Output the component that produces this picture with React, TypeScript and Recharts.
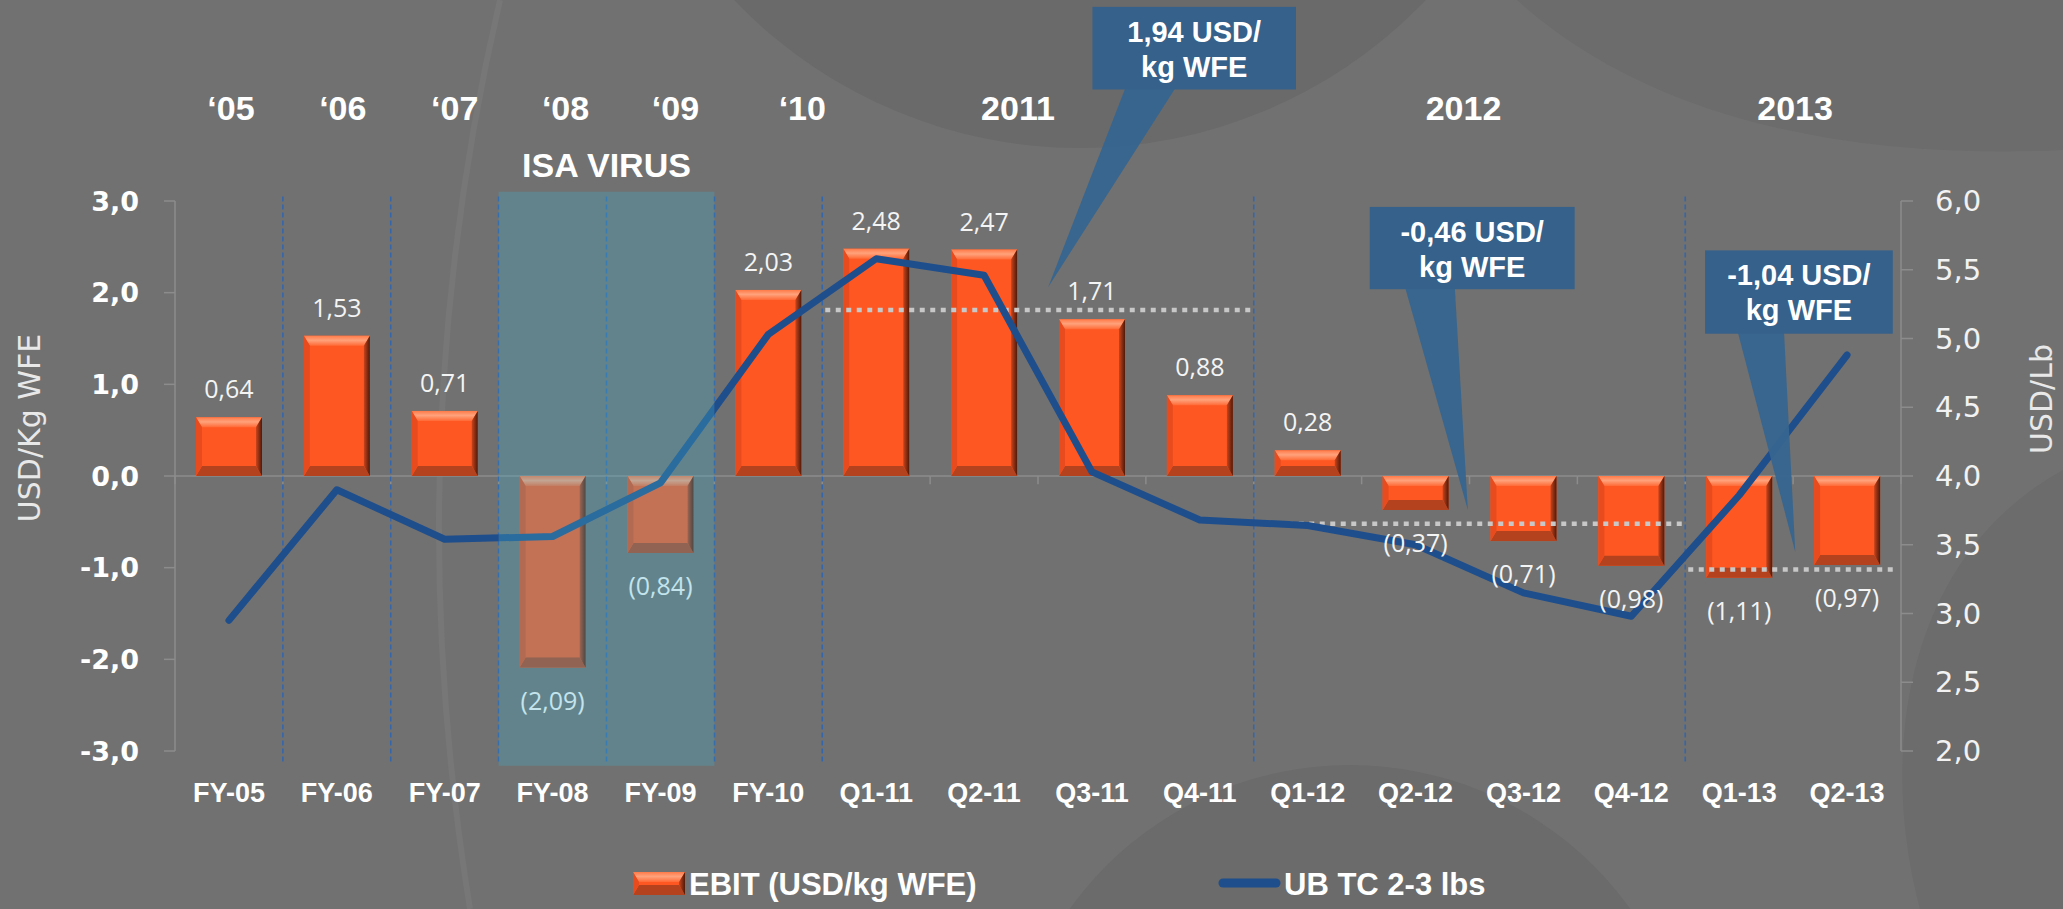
import React from 'react';
import {
  ComposedChart,
  Bar,
  Line,
  XAxis,
  YAxis,
  ReferenceArea,
  ReferenceDot,
  LabelList,
} from 'recharts';

// ---- data ----
const categories = ['FY-05', 'FY-06', 'FY-07', 'FY-08', 'FY-09', 'FY-10', 'Q1-11', 'Q2-11', 'Q3-11', 'Q4-11', 'Q1-12', 'Q2-12', 'Q3-12', 'Q4-12', 'Q1-13', 'Q2-13'];
const ebitValues = [0.64, 1.53, 0.71, -2.09, -0.84, 2.03, 2.48, 2.47, 1.71, 0.88, 0.28, -0.37, -0.71, -0.98, -1.11, -0.97];
const ubTcValues = [2.95, 3.9, 3.54, 3.56, 3.95, 5.03, 5.58, 5.46, 4.03, 3.68, 3.64, 3.5, 3.15, 2.98, 3.86, 4.88];

const yearLabels = ['‘05', '‘06', '‘07', '‘08', '‘09', '‘10', '2011', '2012', '2013'];
const yearStart = ['FY-05', 'FY-06', 'FY-07', 'FY-08', 'FY-09', 'FY-10', 'Q1-11', 'Q1-12', 'Q1-13'];
const yearEnd = ['FY-05', 'FY-06', 'FY-07', 'FY-08', 'FY-09', 'FY-10', 'Q4-11', 'Q4-12', 'Q2-13'];

const dividerAt = ['FY-06', 'FY-07', 'FY-08', 'FY-09', 'FY-10', 'Q1-11', 'Q1-12', 'Q1-13'];

const avgStart = ['Q1-11', 'Q1-12', 'Q1-13'];
const avgEnd = ['Q4-11', 'Q4-12', 'Q2-13'];
const avgValues = [1.81, -0.52, -1.02];

const calloutText = [['1,94 USD/', 'kg WFE'], ['-0,46 USD/', 'kg WFE'], ['-1,04 USD/', 'kg WFE']];
const calloutCat = ['Q3-11', 'Q3-12', 'Q2-13'];
const calloutValue = [2.06, -0.37, -0.83];

const leftTicks = [-3, -2, -1, 0, 1, 2, 3];
const rightTicks = [2, 2.5, 3, 3.5, 4, 4.5, 5, 5.5, 6];

const data = categories.map((cat, i) => ({ cat, ebit: ebitValues[i], ubtc: ubTcValues[i] }));

// ---- layout / style ----
const W = 2063;
const H = 909;
const BG = '#717171';
const LINE_BLUE = '#1f4e8c';
const ARIAL = '"Liberation Sans", Arial, sans-serif';
const DEJAVU = '"DejaVu Sans", Verdana, sans-serif';
const OPEN = '"Open Sans", "Liberation Sans", sans-serif';
const ISA_TINT = ['FY-08', 'FY-09'];

// pixel nudges of the year row text (Excel text boxes are not exactly centred)
const yearNudge = [2, 6, 10, 13, 15, 34, -20, -6, 2];

// callout geometry relative to the pointer tip
const calloutGeo = [
  { dx: -43.8, bx: 44.3, by: -280.3, bw: 203.5, bh: 82.6, p1: 77, p2: 127 },
  { dx: -55.6, bx: -98.1, by: -303, bw: 204.9, bh: 82.3, p1: -62.5, p2: -13 },
  { dx: -51.8, bx: -90.2, by: -301.7, bw: 187.7, bh: 83.3, p1: -57.3, p2: -11.2 },
];

const fmt1 = (v: number) => v.toFixed(1).replace('.', ',');
const fmtLabel = (v: number) =>
  v < 0 ? `(${Math.abs(v).toFixed(2).replace('.', ',')})` : v.toFixed(2).replace('.', ',');

function BevelRect({ x, y, w, h }: { x: number; y: number; w: number; h: number }) {
  const b = Math.min(10, h / 2);
  const s = Math.min(6, w / 2);
  return (
    <g>
      <rect x={x} y={y} width={w} height={h} fill="#ff5722" />
      <polygon points={`${x},${y} ${x + w},${y} ${x + w - s},${y + b} ${x + s},${y + b}`} fill="url(#bevelTop)" />
      <polygon points={`${x},${y + h} ${x + s},${y + h - b} ${x + w - s},${y + h - b} ${x + w},${y + h}`} fill="#b4421e" />
      <polygon points={`${x},${y} ${x + s},${y + b} ${x + s},${y + h - b} ${x},${y + h}`} fill="#e84c1e" />
      <polygon points={`${x + w},${y} ${x + w},${y + h} ${x + w - s},${y + h - b} ${x + w - s},${y + b}`} fill="url(#bevelRight)" />
    </g>
  );
}

const BevelBar = (props: any) => {
  const { x, y, width, height } = props;
  if (x == null || y == null || !width || !height) return null;
  const top = Math.min(y, y + height);
  const h = Math.abs(height);
  if (h < 1) return null;
  return <BevelRect x={x} y={top} w={width} h={h} />;
};

const BarLabel = (props: any) => {
  const vb = props.viewBox ?? props;
  const x = props.x ?? vb.x;
  const y = props.y ?? vb.y;
  const width = props.width ?? vb.width;
  const height = props.height ?? vb.height;
  const value = Number(props.value);
  const idx = props.index;
  if (x == null || y == null) return null;
  const top = Math.min(y, y + height);
  const bottom = Math.max(y, y + height);
  const cx = x + width / 2;
  const ty = value < 0 ? bottom + 32 : top - 29;
  const tinted = idx != null && ISA_TINT.includes(categories[idx]);
  return (
    <text x={cx} y={ty} textAnchor="middle" dominantBaseline="central" fill={tinted ? '#c3e4ec' : '#f4f4f4'} fontSize={25} fontFamily={OPEN}>
      {fmtLabel(value)}
    </text>
  );
};

const XTick = (p: any) => (
  <text x={p.x} y={751 + 42} textAnchor="middle" dominantBaseline="central" fill="#ffffff" fontSize={27} fontWeight={700} fontFamily={ARIAL}>
    {p.payload.value}
  </text>
);

const LeftTick = (p: any) => (
  <text x={p.x} y={p.y} textAnchor="end" dominantBaseline="central" fill="#ffffff" fontSize={27} fontWeight={700} fontFamily={DEJAVU}>
    {fmt1(p.payload.value)}
  </text>
);

const RightTick = (p: any) => (
  <text x={p.x} y={p.y} textAnchor="start" dominantBaseline="central" fill="#f2f2f2" fontSize={29} fontFamily={DEJAVU}>
    {fmt1(p.payload.value)}
  </text>
);

function Callout({ cx, cy, lines, geo }: any) {
  if (cx == null || cy == null) return null;
  const tx = cx + geo.dx;
  const ty = cy;
  const left = tx + geo.bx;
  const top = ty + geo.by;
  const mid = left + geo.bw / 2;
  return (
    <g>
      <polygon points={`${tx + geo.p1},${top + geo.bh - 1} ${tx + geo.p2},${top + geo.bh - 1} ${tx},${ty}`} fill="#36658f" fillOpacity={0.95} />
      <rect x={left} y={top} width={geo.bw} height={geo.bh} fill="#35618b" />
      <text x={mid} y={top + 25} textAnchor="middle" dominantBaseline="central" fill="#ffffff" fontSize={29} fontWeight={700} fontFamily={ARIAL}>
        {lines[0]}
      </text>
      <text x={mid} y={top + 60} textAnchor="middle" dominantBaseline="central" fill="#ffffff" fontSize={29} fontWeight={700} fontFamily={ARIAL}>
        {lines[1]}
      </text>
    </g>
  );
}

function Background() {
  return (
    <svg width={W} height={H} style={{ position: 'absolute', left: 0, top: 0 }}>
      <defs>
        <linearGradient id="bevelTop" x1="0" y1="0" x2="0" y2="1">
          <stop offset="0%" stopColor="#ff7a48" />
          <stop offset="45%" stopColor="#ffa27c" />
          <stop offset="100%" stopColor="#ff6a36" />
        </linearGradient>
        <linearGradient id="bevelRight" x1="0" y1="0" x2="1" y2="0">
          <stop offset="0%" stopColor="#c8441c" />
          <stop offset="100%" stopColor="#4e1a0a" />
        </linearGradient>
      </defs>
      <rect x={0} y={0} width={W} height={H} fill={BG} />
      <circle cx={1080} cy={-330} r={478} fill="#6a6a6a" />
      <path d="M 500 0 C 430 300, 420 600, 470 909" stroke="#777777" strokeWidth={6} fill="none" />
      <path d="M 1517 0 C 1650 120, 1850 160, 2063 150 L 2063 0 Z" fill="#6c6c6c" />
      <circle cx={1350} cy={1110} r={345} fill="#6b6b6b" />
      <path d="M 2063 470 C 1900 560, 1880 760, 1920 909 L 2063 909 Z" fill="#6c6c6c" />
    </svg>
  );
}

function Overlay() {
  return (
    <svg width={W} height={H} style={{ position: 'absolute', left: 0, top: 0, pointerEvents: 'none' }}>
      <text transform="translate(29,428) rotate(-90)" textAnchor="middle" dominantBaseline="central" fill="#e8e8e8" fontSize={30} fontFamily={DEJAVU}>
        USD/Kg WFE
      </text>
      <text transform="translate(2041,399) rotate(-90)" textAnchor="middle" dominantBaseline="central" fill="#e8e8e8" fontSize={30} fontFamily={DEJAVU}>
        USD/Lb
      </text>
      <BevelRect x={633} y={872} w={52} h={23} />
      <text x={689} y={884} dominantBaseline="central" fill="#ffffff" fontSize={31} fontWeight={700} fontFamily={ARIAL}>
        EBIT (USD/kg WFE)
      </text>
      <line x1={1223} y1={883} x2={1276} y2={883} stroke={LINE_BLUE} strokeWidth={9} strokeLinecap="round" />
      <text x={1284} y={884} dominantBaseline="central" fill="#ffffff" fontSize={31} fontWeight={700} fontFamily={ARIAL}>
        UB TC 2-3 lbs
      </text>
    </svg>
  );
}

export default function App() {
  return (
    <div style={{ position: 'absolute', left: 0, top: 0, width: W, height: H, background: BG, overflow: 'hidden' }}>
      <Background />
      <div style={{ position: 'absolute', left: 0, top: 0 }}>
        <ComposedChart width={W} height={H} data={data} margin={{ top: 201, right: 0, bottom: 98, left: 0 }}>
          <XAxis dataKey="cat" xAxisId={0} height={60} axisLine={false} tickLine={false} tickSize={0} tickMargin={0} interval={0} tick={<XTick />} />
          <YAxis
            yAxisId="left"
            width={175}
            domain={[-3, 3]}
            ticks={leftTicks}
            interval={0}
            axisLine={{ stroke: '#8c8c8c', strokeWidth: 1.5 }}
            tickLine={{ stroke: '#8c8c8c', strokeWidth: 1.5 }}
            tickSize={11}
            tickMargin={25}
            tick={<LeftTick />}
          />
          <YAxis
            yAxisId="right"
            orientation="right"
            width={162}
            domain={[2, 6]}
            ticks={rightTicks}
            interval={0}
            axisLine={{ stroke: '#8c8c8c', strokeWidth: 1.5 }}
            tickLine={{ stroke: '#8c8c8c', strokeWidth: 1.5 }}
            tickSize={12}
            tickMargin={22}
            tick={<RightTick />}
          />

          {/* zero line with category tick marks */}
          {categories.map((c, i) => (
            <ReferenceArea
              key={`z-${c}`}
              yAxisId="left"
              x1={c}
              x2={c}
              y1={-0.09}
              y2={0}
              ifOverflow="visible"
              zIndex={50}
              shape={(p: any) => (
                <g>
                  <line x1={p.x} x2={p.x + p.width} y1={p.y} y2={p.y} stroke="#8c8c8c" strokeWidth={1.5} />
                  <line x1={p.x} x2={p.x} y1={p.y} y2={p.y + p.height} stroke="#8c8c8c" strokeWidth={1.5} />
                  {i === categories.length - 1 ? (
                    <line x1={p.x + p.width} x2={p.x + p.width} y1={p.y} y2={p.y + p.height} stroke="#8c8c8c" strokeWidth={1.5} />
                  ) : null}
                </g>
              )}
            />
          ))}

          {/* blue dashed period dividers */}
          {dividerAt.map((c) => (
            <ReferenceArea
              key={`d-${c}`}
              yAxisId="left"
              x1={c}
              x2={c}
              y1={-3.12}
              y2={3.05}
              ifOverflow="visible"
              zIndex={60}
              shape={(p: any) => (
                <line x1={p.x} x2={p.x} y1={p.y} y2={p.y + p.height} stroke="#3466ab" strokeWidth={1.6} strokeDasharray="5 3" />
              )}
            />
          ))}

          <Bar yAxisId="left" dataKey="ebit" barSize={66} shape={<BevelBar />} isAnimationActive={false}>
            <LabelList dataKey="ebit" content={<BarLabel />} />
          </Bar>

          {/* dotted period averages */}
          {avgValues.map((v, i) => (
            <ReferenceArea
              key={`a-${i}`}
              yAxisId="left"
              x1={avgStart[i]}
              x2={avgEnd[i]}
              y1={v - 0.02}
              y2={v + 0.02}
              ifOverflow="visible"
              zIndex={350}
              shape={(p: any) => (
                <line
                  x1={p.x + 3}
                  x2={p.x + p.width - 3}
                  y1={p.y + p.height / 2}
                  y2={p.y + p.height / 2}
                  stroke="#c8c8c8"
                  strokeWidth={4.5}
                  strokeDasharray="5 5.5"
                />
              )}
            />
          ))}

          <Line
            yAxisId="right"
            dataKey="ubtc"
            type="linear"
            stroke={LINE_BLUE}
            strokeWidth={7}
            strokeLinejoin="round"
            strokeLinecap="round"
            dot={false}
            activeDot={false}
            isAnimationActive={false}
          />

          {/* ISA virus shading, over the marks */}
          <ReferenceArea
            yAxisId="left"
            x1="FY-08"
            x2="FY-09"
            y1={-3.16}
            y2={3.1}
            ifOverflow="visible"
            zIndex={450}
            fill="#43aac4"
            fillOpacity={0.32}
            stroke="none"
            label={{ value: 'ISA VIRUS', position: 'top', offset: 15, fill: '#ffffff', fontSize: 34, fontWeight: 700, fontFamily: ARIAL }}
          />

          {/* year row */}
          {yearLabels.map((t, i) => (
            <ReferenceArea
              key={`y-${t}`}
              yAxisId="left"
              x1={yearStart[i]}
              x2={yearEnd[i]}
              y1={3.92}
              y2={4.12}
              ifOverflow="visible"
              zIndex={500}
              shape={(p: any) => (
                <text
                  x={p.x + p.width / 2 + yearNudge[i]}
                  y={p.y + p.height / 2}
                  textAnchor="middle"
                  dominantBaseline="central"
                  fill="#ffffff"
                  fontSize={34}
                  fontWeight={700}
                  fontFamily={ARIAL}
                >
                  {t}
                </text>
              )}
            />
          ))}

          {/* callouts */}
          {calloutText.map((lines, i) => (
            <ReferenceDot
              key={`c-${i}`}
              yAxisId="left"
              x={calloutCat[i]}
              y={calloutValue[i]}
              r={1}
              ifOverflow="visible"
              zIndex={2500}
              shape={(p: any) => <Callout cx={p.cx} cy={p.cy} lines={lines} geo={calloutGeo[i]} />}
            />
          ))}
        </ComposedChart>
      </div>
      <Overlay />
    </div>
  );
}
